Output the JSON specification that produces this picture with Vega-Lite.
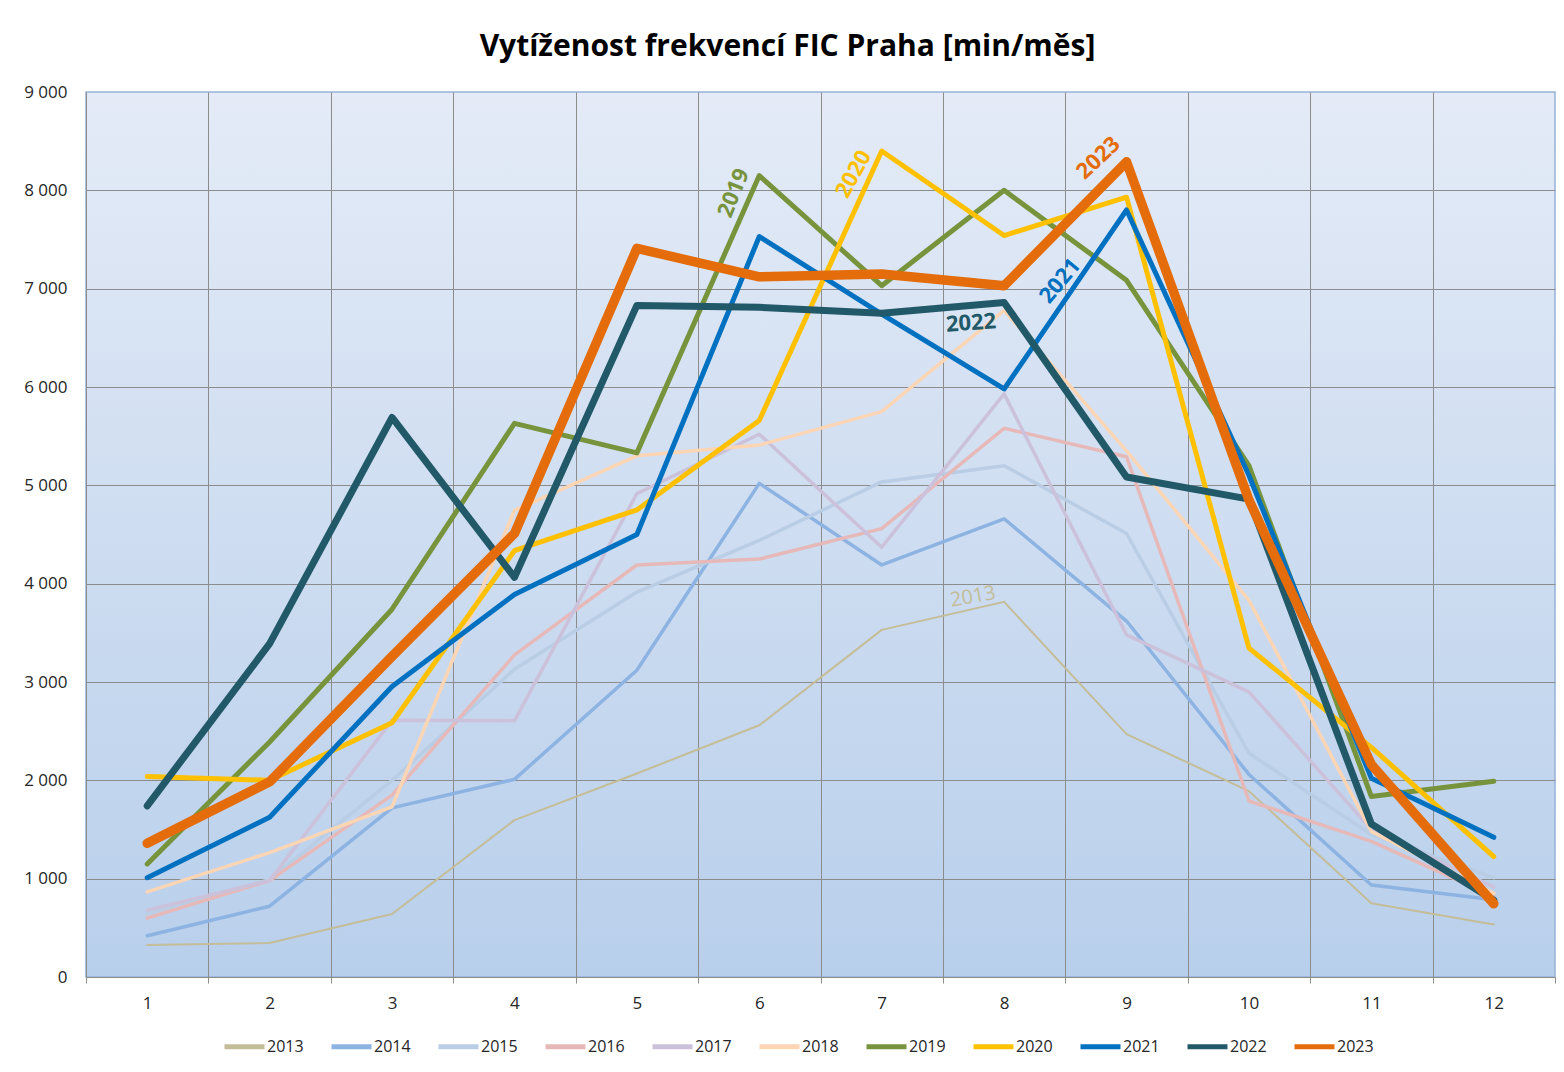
{
  "$schema": "https://vega.github.io/schema/vega-lite/v6.json",
  "width": 1469,
  "height": 885,
  "autosize": "none",
  "padding": {"top": 92, "left": 86, "right": 9, "bottom": 95},
  "background": "white",
  "title": {
    "text": "Vytíženost frekvencí FIC Praha [min/měs]",
    "font": "Open Sans",
    "fontSize": 30,
    "fontWeight": "bold",
    "color": "#000000",
    "anchor": "middle",
    "dx": -33,
    "offset": 21
  },
  "config": {
    "view": {
      "stroke": "#95b3d7",
      "strokeWidth": 1.5,
      "fill": {
        "gradient": "linear",
        "x1": 0, "y1": 0, "x2": 0, "y2": 1,
        "stops": [
          {"offset": 0, "color": "#e4ebf7"},
          {"offset": 1, "color": "#b8cfeb"}
        ]
      }
    },
    "axis": {
      "labelFont": "Open Sans",
      "labelFontSize": 17,
      "labelColor": "#262626",
      "domainColor": "#8c8c8c",
      "gridColor": "#8c8c8c",
      "tickColor": "#8c8c8c",
      "title": null
    }
  },
  "datasets": {
    "freq": [
      {"year":"2013","month":1,"value":325},{"year":"2013","month":2,"value":345},{"year":"2013","month":3,"value":640},{"year":"2013","month":4,"value":1595},{"year":"2013","month":5,"value":2070},{"year":"2013","month":6,"value":2560},{"year":"2013","month":7,"value":3530},{"year":"2013","month":8,"value":3815},{"year":"2013","month":9,"value":2470},{"year":"2013","month":10,"value":1890},{"year":"2013","month":11,"value":750},{"year":"2013","month":12,"value":535},
      {"year":"2014","month":1,"value":420},{"year":"2014","month":2,"value":720},{"year":"2014","month":3,"value":1720},{"year":"2014","month":4,"value":2010},{"year":"2014","month":5,"value":3120},{"year":"2014","month":6,"value":5020},{"year":"2014","month":7,"value":4190},{"year":"2014","month":8,"value":4660},{"year":"2014","month":9,"value":3620},{"year":"2014","month":10,"value":2060},{"year":"2014","month":11,"value":935},{"year":"2014","month":12,"value":785},
      {"year":"2015","month":1,"value":650},{"year":"2015","month":2,"value":990},{"year":"2015","month":3,"value":2000},{"year":"2015","month":4,"value":3130},{"year":"2015","month":5,"value":3915},{"year":"2015","month":6,"value":4440},{"year":"2015","month":7,"value":5035},{"year":"2015","month":8,"value":5200},{"year":"2015","month":9,"value":4510},{"year":"2015","month":10,"value":2275},{"year":"2015","month":11,"value":1450},{"year":"2015","month":12,"value":1010},
      {"year":"2016","month":1,"value":600},{"year":"2016","month":2,"value":980},{"year":"2016","month":3,"value":1850},{"year":"2016","month":4,"value":3275},{"year":"2016","month":5,"value":4190},{"year":"2016","month":6,"value":4250},{"year":"2016","month":7,"value":4560},{"year":"2016","month":8,"value":5580},{"year":"2016","month":9,"value":5290},{"year":"2016","month":10,"value":1790},{"year":"2016","month":11,"value":1380},{"year":"2016","month":12,"value":820},
      {"year":"2017","month":1,"value":680},{"year":"2017","month":2,"value":980},{"year":"2017","month":3,"value":2610},{"year":"2017","month":4,"value":2605},{"year":"2017","month":5,"value":4915},{"year":"2017","month":6,"value":5520},{"year":"2017","month":7,"value":4370},{"year":"2017","month":8,"value":5930},{"year":"2017","month":9,"value":3480},{"year":"2017","month":10,"value":2900},{"year":"2017","month":11,"value":1500},{"year":"2017","month":12,"value":915},
      {"year":"2018","month":1,"value":865},{"year":"2018","month":2,"value":1265},{"year":"2018","month":3,"value":1730},{"year":"2018","month":4,"value":4745},{"year":"2018","month":5,"value":5300},{"year":"2018","month":6,"value":5410},{"year":"2018","month":7,"value":5750},{"year":"2018","month":8,"value":6780},{"year":"2018","month":9,"value":5350},{"year":"2018","month":10,"value":3830},{"year":"2018","month":11,"value":1480},{"year":"2018","month":12,"value":850},
      {"year":"2019","month":1,"value":1150},{"year":"2019","month":2,"value":2390},{"year":"2019","month":3,"value":3740},{"year":"2019","month":4,"value":5630},{"year":"2019","month":5,"value":5330},{"year":"2019","month":6,"value":8150},{"year":"2019","month":7,"value":7030},{"year":"2019","month":8,"value":8000},{"year":"2019","month":9,"value":7085},{"year":"2019","month":10,"value":5200},{"year":"2019","month":11,"value":1835},{"year":"2019","month":12,"value":1990},
      {"year":"2020","month":1,"value":2040},{"year":"2020","month":2,"value":2000},{"year":"2020","month":3,"value":2585},{"year":"2020","month":4,"value":4335},{"year":"2020","month":5,"value":4750},{"year":"2020","month":6,"value":5660},{"year":"2020","month":7,"value":8400},{"year":"2020","month":8,"value":7540},{"year":"2020","month":9,"value":7930},{"year":"2020","month":10,"value":3345},{"year":"2020","month":11,"value":2335},{"year":"2020","month":12,"value":1225},
      {"year":"2021","month":1,"value":1010},{"year":"2021","month":2,"value":1625},{"year":"2021","month":3,"value":2955},{"year":"2021","month":4,"value":3890},{"year":"2021","month":5,"value":4500},{"year":"2021","month":6,"value":7530},{"year":"2021","month":7,"value":6740},{"year":"2021","month":8,"value":5980},{"year":"2021","month":9,"value":7800},{"year":"2021","month":10,"value":5100},{"year":"2021","month":11,"value":2020},{"year":"2021","month":12,"value":1420},
      {"year":"2022","month":1,"value":1740},{"year":"2022","month":2,"value":3390},{"year":"2022","month":3,"value":5690},{"year":"2022","month":4,"value":4065},{"year":"2022","month":5,"value":6830},{"year":"2022","month":6,"value":6810},{"year":"2022","month":7,"value":6750},{"year":"2022","month":8,"value":6860},{"year":"2022","month":9,"value":5085},{"year":"2022","month":10,"value":4860},{"year":"2022","month":11,"value":1555},{"year":"2022","month":12,"value":780},
      {"year":"2023","month":1,"value":1360},{"year":"2023","month":2,"value":1985},{"year":"2023","month":3,"value":3260},{"year":"2023","month":4,"value":4510},{"year":"2023","month":5,"value":7410},{"year":"2023","month":6,"value":7120},{"year":"2023","month":7,"value":7150},{"year":"2023","month":8,"value":7030},{"year":"2023","month":9,"value":8290},{"year":"2023","month":10,"value":4850},{"year":"2023","month":11,"value":2160},{"year":"2023","month":12,"value":745}
    ],
    "labels": [
      {"year":"2013","month":7.745,"value":3865},
      {"year":"2019","month":5.79,"value":7973},
      {"year":"2020","month":6.77,"value":8166},
      {"year":"2021","month":8.456,"value":7078},
      {"year":"2022","month":7.73,"value":6651},
      {"year":"2023","month":8.77,"value":8329}
    ]
  },
  "encoding": {
    "x": {
      "field": "month",
      "type": "quantitative",
      "scale": {"domain": [0.5, 12.5], "nice": false, "zero": false},
      "axis": {
        "values": [0.5,1,1.5,2,2.5,3,3.5,4,4.5,5,5.5,6,6.5,7,7.5,8,8.5,9,9.5,10,10.5,11,11.5,12,12.5],
        "labelExpr": "datum.value % 1 == 0 ? datum.value : ''",
        "grid": true,
        "gridOpacity": {"condition": {"test": "datum.value % 1 == 0 || datum.value == 0.5 || datum.value == 12.5", "value": 0}, "value": 1},
        "ticks": true,
        "tickSize": 6,
        "tickOpacity": {"condition": {"test": "datum.value % 1 == 0", "value": 0}, "value": 1},
        "labelPadding": 12,
        "labelFlush": false,
        "labelOverlap": false,
        "domain": true
      }
    },
    "y": {
      "field": "value",
      "type": "quantitative",
      "scale": {"domain": [0, 9000], "nice": false},
      "axis": {
        "values": [0,1000,2000,3000,4000,5000,6000,7000,8000,9000],
        "labelExpr": "replace(format(datum.value, ','), ',', ' ')",
        "grid": true,
        "gridOpacity": {"condition": {"test": "datum.value == 9000 || datum.value == 0", "value": 0}, "value": 1},
        "ticks": false,
        "labelPadding": 19,
        "domain": true
      }
    },
    "color": {
      "field": "year",
      "type": "ordinal",
      "scale": {
        "type": "ordinal",
        "domain": ["2013","2014","2015","2016","2017","2018","2019","2020","2021","2022","2023"],
        "range": ["#c4bd97","#8db3e2","#b9cde5","#e6b9b8","#ccc1da","#fcd5b5","#77933c","#ffc000","#0070c0","#215968","#e46c0a"]
      },
      "legend": {
        "orient": "none",
        "legendX": 136,
        "legendY": 932,
        "direction": "horizontal",
        "columns": 11,
        "title": null,
        "symbolType": "stroke",
        "symbolSize": 1600,
        "symbolStrokeWidth": 5,
        "labelFont": "Open Sans",
        "labelFontSize": 16,
        "labelColor": "#262626",
        "labelOffset": 0,
        "columnPadding": 17
      }
    }
  },
  "layer": [
    {
      "data": {"name": "freq"},
      "transform": [{"filter": "datum.year == '2013'"}],
      "mark": {"type": "line", "strokeCap": "round", "strokeJoin": "round", "strokeWidth": 2},
      "encoding": {"order": {"field": "month", "type": "quantitative"}}
    },
    {
      "data": {"name": "freq"},
      "transform": [{"filter": "datum.year > '2013' && datum.year < '2019'"}],
      "mark": {"type": "line", "strokeCap": "round", "strokeJoin": "round", "strokeWidth": 3.5},
      "encoding": {"order": {"field": "month", "type": "quantitative"}}
    },
    {
      "data": {"name": "freq"},
      "transform": [{"filter": "datum.year >= '2019' && datum.year <= '2021'"}],
      "mark": {"type": "line", "strokeCap": "round", "strokeJoin": "round", "strokeWidth": 5},
      "encoding": {"order": {"field": "month", "type": "quantitative"}}
    },
    {
      "data": {"name": "freq"},
      "transform": [{"filter": "datum.year == '2022'"}],
      "mark": {"type": "line", "strokeCap": "round", "strokeJoin": "round", "strokeWidth": 7},
      "encoding": {"order": {"field": "month", "type": "quantitative"}}
    },
    {
      "data": {"name": "freq"},
      "transform": [{"filter": "datum.year == '2023'"}],
      "mark": {"type": "line", "strokeCap": "round", "strokeJoin": "round", "strokeWidth": 9.5},
      "encoding": {"order": {"field": "month", "type": "quantitative"}}
    },
    {
      "data": {"name": "labels"},
      "transform": [{"filter": "datum.year != '2013'"}],
      "mark": {"type": "text", "font": "Open Sans", "fontSize": 22, "fontWeight": "bold", "align": "center", "baseline": "middle"},
      "encoding": {
        "text": {"field": "year"},
        "angle": {
          "field": "year",
          "type": "ordinal",
          "scale": {"type": "ordinal", "domain": ["2019","2020","2021","2022","2023"], "range": [292, 299, 310, 356, 317]},
          "legend": null
        }
      }
    },
    {
      "data": {"name": "labels"},
      "transform": [{"filter": "datum.year == '2013'"}],
      "mark": {"type": "text", "font": "Open Sans", "fontSize": 20, "align": "center", "baseline": "middle", "angle": 350},
      "encoding": {
        "text": {"field": "year"}
      }
    }
  ]
}
